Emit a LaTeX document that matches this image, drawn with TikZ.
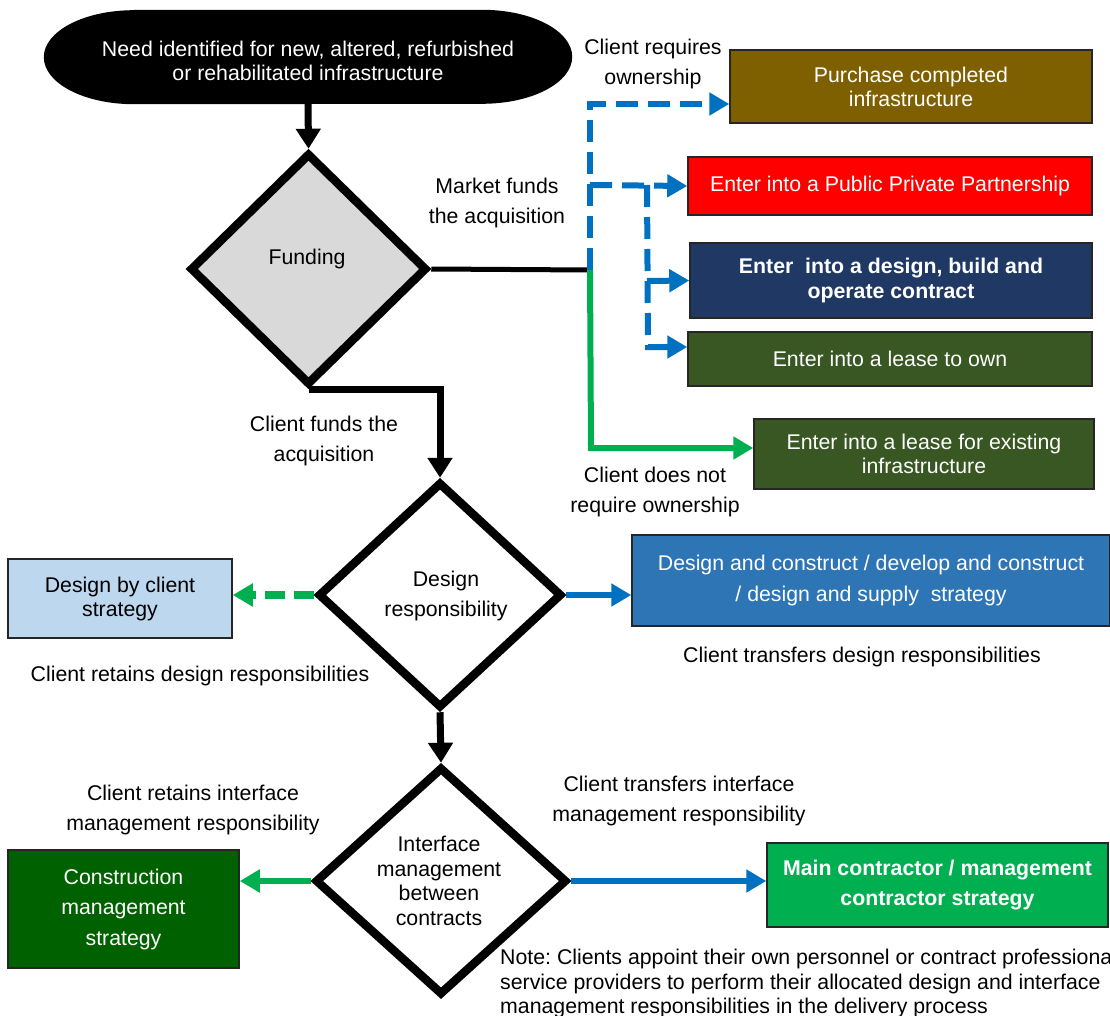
\documentclass[tikz,border=0pt]{standalone}
\usepackage{fontspec}
\setmainfont{Liberation Sans}
\usetikzlibrary{shapes.geometric,arrows.meta}
\definecolor{brownbox}{HTML}{7F6000}
\definecolor{navybox}{HTML}{203864}
\definecolor{dgreenbox}{HTML}{385723}
\definecolor{lblue}{HTML}{BDD7EE}
\definecolor{mblue}{HTML}{2E75B6}
\definecolor{cmgreen}{HTML}{006100}
\definecolor{brgreen}{HTML}{00B050}
\definecolor{arrblue}{HTML}{0070C0}
\definecolor{arrgreen}{HTML}{00B050}
\definecolor{lgray}{HTML}{D9D9D9}
\frenchspacing
\begin{document}
\begin{tikzpicture}[x=1pt,y=-1pt,
  every node/.style={font=\fontsize{21.3}{24}\selectfont, inner sep=0pt},
  box/.style={draw=black!85, line width=1.5pt, align=center, text=white},
  lbl/.style={align=center, font=\fontsize{21.3}{30.5}\selectfont},
  dia/.style={diamond, draw=black, line width=8.5pt, fill=white, inner sep=0pt},
  blk/.style={draw=black, line width=7pt, -{Triangle[length=20pt,width=24pt]}},
  blu/.style={draw=arrblue, line width=6pt, -{Triangle[length=20pt,width=22pt]}},
  grn/.style={draw=arrgreen, line width=6pt, -{Triangle[length=20pt,width=22pt]}},
  bluedash/.style={dash pattern=on 22pt off 10pt},
]
\useasboundingbox (0,0) rectangle (1110,1016);

% start terminal
\node[minimum width=528pt, minimum height=94pt] (need) at (308,57) {};
\fill[black] ([xshift=90pt]need.north west) -- ([xshift=-90pt]need.north east)
  arc[start angle=-90, end angle=90, x radius=90, y radius=47]
  -- ([xshift=90pt]need.south west)
  arc[start angle=90, end angle=270, x radius=90, y radius=47] -- cycle;
\node[text=white, align=center] (needtxt) at (308,61) {Need identified for new, altered, refurbished\\or rehabilitated infrastructure};

% diamonds
\node[dia, fill=lgray, minimum width=237pt, minimum height=232pt] (fund) at (308.5,269) {};
\node (fundtxt) at (307,259) {Funding};
\node[dia, minimum width=244pt, minimum height=226pt] (des) at (440,595) {};
\node[align=center, font=\fontsize{21.3}{30}\selectfont] (destxt) at (446,596) {Design\\responsibility};
\node[dia, minimum width=252pt, minimum height=228pt] (intf) at (441,881) {};
\node[align=center, font=\fontsize{21.3}{24.5}\selectfont] (intftxt) at (439,881) {Interface\\management\\between\\contracts};

% right boxes
\node[box, fill=brownbox, minimum width=362pt, minimum height=73pt] (purch) at (911,86.5) {Purchase completed\\infrastructure};
\node[box, fill=red, minimum width=404pt, minimum height=58pt] (ppp) at (890,186) {Enter into a Public Private Partnership};
\node[box, fill=navybox, minimum width=402pt, minimum height=75pt, font=\bfseries\fontsize{21.3}{25}\selectfont] (dbo) at (891,280.5) {Enter\ \ into a design, build and\\operate contract};
\node[box, fill=dgreenbox, minimum width=404pt, minimum height=54pt] (lto) at (890,359) {Enter into a lease to own};
\node[box, fill=dgreenbox, minimum width=340pt, minimum height=70pt] (lex) at (924,454) {Enter into a lease for existing\\infrastructure};

\node[box, fill=lblue, text=black, minimum width=224pt, minimum height=79pt] (dbc) at (120,598.5) {Design by client\\strategy};
\node[box, fill=mblue, minimum width=478pt, minimum height=91pt, font=\fontsize{21.3}{31}\selectfont] (dc) at (871,580.5) {Design and construct / develop and construct\\/ design and supply\ \ strategy};
\node[box, fill=cmgreen, minimum width=231pt, minimum height=118pt, font=\fontsize{21.3}{30.5}\selectfont] (cm) at (123.5,909) {Construction\\management\\strategy};
\node[box, fill=brgreen, minimum width=341pt, minimum height=84pt, font=\bfseries\fontsize{21.3}{30}\selectfont] (mc) at (937.5,885) {Main contractor / management\\contractor strategy};

% labels
\node[lbl] (l1) at (653,64) {Client requires\\ownership};
\node[lbl] (l2) at (497,203) {Market funds\\the acquisition};
\node[lbl] (l3) at (324,441) {Client funds the\\acquisition};
\node[lbl] (l4) at (655,492) {Client does not\\require ownership};
\node (l5) at (200,676) {Client retains design responsibilities};
\node (l6) at (862,657) {Client transfers design responsibilities};
\node[lbl] (l7) at (193,810) {Client retains interface\\management responsibility};
\node[lbl] (l8) at (679,801) {Client transfers interface\\management responsibility};
\node[align=left, anchor=north west, font=\fontsize{21.3}{24.5}\selectfont] (note) at (500,949) {Note: Clients appoint their own personnel or contract professional\\service providers to perform their allocated design and interface\\management responsibilities in the delivery process};

% junction coordinates
\coordinate (j) at (590,270);
\coordinate (jt) at (590,104);
\coordinate (jp) at (590,185);
\coordinate (k) at (647,185);
\coordinate (kd) at (647,281);
\coordinate (kl) at (648,347);
\coordinate (jg) at (591,448);

% connectors
\draw[blk] (need.south) -- (fund.north);
\draw[black, line width=5pt] (fund.east) -- (j);
\draw[blu, bluedash] (j) -- (jt) -- (purch.west |- jt);
\draw[blu, bluedash] (jp) -- (ppp.west);
\draw[blu, bluedash] (k) -- (kl) -- (lto.west |- kl);
\draw[blu] (kd) -- (dbo.west);
\draw[grn] (j) -- (jg) -- (lex.west |- jg);
\draw[blk, line join=miter] (fund.south) -| (des.north);
\draw[grn, line width=8pt, dash pattern=on 20pt off 9pt] (des.west) -- (des.west -| dbc.east);
\draw[blu] (des.east) -- (des.east -| dc.west);
\draw[blk] (des.south) -- (intf.north);
\draw[grn] (intf.west) -- (intf.west -| cm.east);
\draw[blu] (intf.east) -- (intf.east -| mc.west);
\end{tikzpicture}
\end{document}
